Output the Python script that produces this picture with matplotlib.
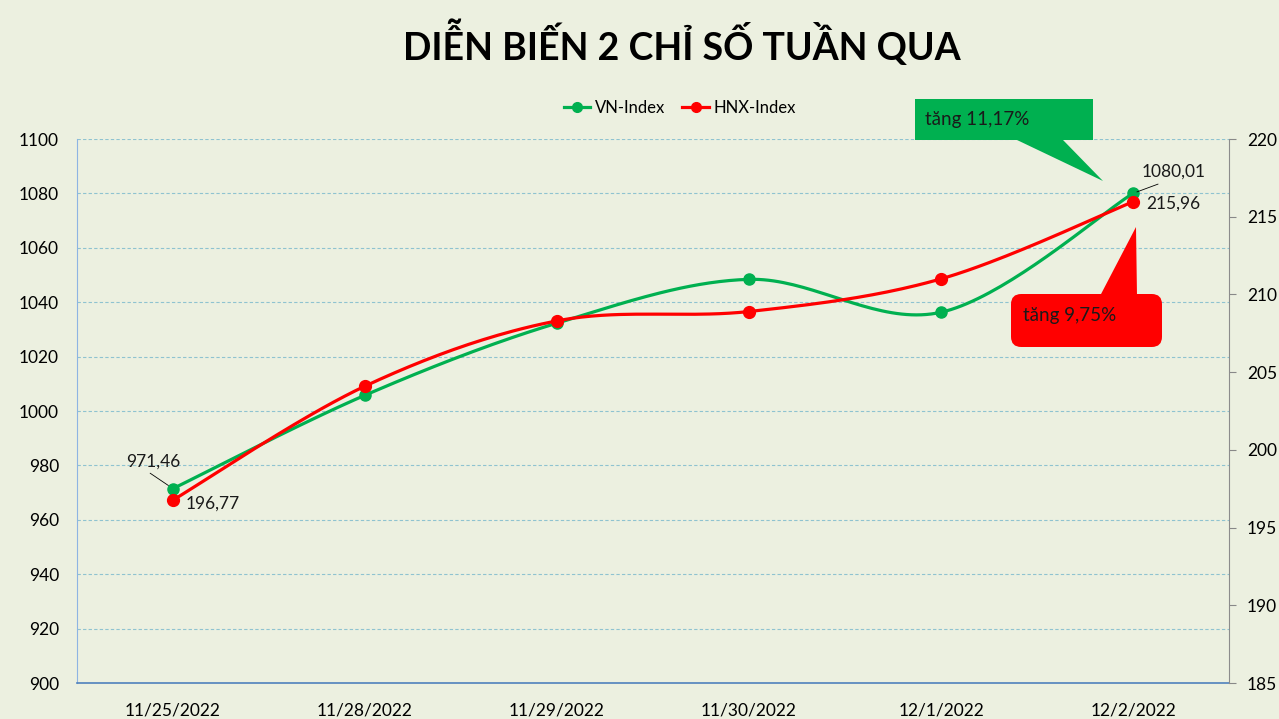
import numpy as np
import matplotlib
matplotlib.use("Agg")
import matplotlib.pyplot as plt
from matplotlib.patches import Polygon, FancyBboxPatch
from matplotlib.lines import Line2D

dates = ["11/25/2022", "11/28/2022", "11/29/2022", "11/30/2022", "12/1/2022", "12/2/2022"]
vn_index = [971.46, 1005.8, 1032.3, 1048.4, 1036.3, 1080.01]
hnx_index = [196.77, 204.1, 208.3, 208.9, 211.0, 215.96]
left_ticks = [900, 920, 940, 960, 980, 1000, 1020, 1040, 1060, 1080, 1100]
right_ticks = [185, 190, 195, 200, 205, 210, 215, 220]

BG = "#ECF0E0"
GREEN = "#00B050"
RED = "#FF0000"
FONT = ["Lato", "DejaVu Sans"]
plt.rcParams["font.family"] = FONT

W, H = 1279, 719
fig = plt.figure(figsize=(W / 100, H / 100), dpi=100, facecolor=BG)

def fx(px):
    return px / W

def fy(py):
    return 1 - py / H

ax = fig.add_axes([fx(77), fy(683), fx(1229) - fx(77), fy(139) - fy(683)])
ax2 = ax.twinx()
ax.set_facecolor(BG)

x = np.arange(len(dates))
ax.set_xlim(-0.5, len(dates) - 0.5)
ax.set_ylim(900, 1100)
ax2.set_ylim(185, 220)


def smooth(xs, ys, ylo, yhi, n=40):
    # Catmull-Rom style smoothing (like Excel's smoothed line) in normalized coords
    xn = (np.asarray(xs, float) + 0.5) / len(xs)
    yn = (np.asarray(ys, float) - ylo) / (yhi - ylo) * (544 / 1152)
    P = np.column_stack([xn, yn])
    out = []
    for i in range(len(P) - 1):
        p0 = P[i - 1] if i > 0 else P[i]
        p1 = P[i]
        p2 = P[i + 1]
        p3 = P[i + 2] if i + 2 < len(P) else P[i + 1]
        c1 = p1 + (p2 - p0) / 6
        c2 = p2 - (p3 - p1) / 6
        t = np.linspace(0, 1, n)[:, None]
        seg = (1 - t) ** 3 * p1 + 3 * (1 - t) ** 2 * t * c1 + 3 * (1 - t) * t ** 2 * c2 + t ** 3 * p2
        out.append(seg if i == 0 else seg[1:])
    S = np.vstack(out)
    sx = S[:, 0] * len(xs) - 0.5
    sy = S[:, 1] / (544 / 1152) * (yhi - ylo) + ylo
    return sx, sy

sx, sy = smooth(x, vn_index, 900, 1100)
ax.plot(sx, sy, color=GREEN, lw=2.3, zorder=3, solid_capstyle="round")
ax.plot(x, vn_index, "o", color=GREEN, ms=8, zorder=4)

hx, hy = smooth(x, hnx_index, 185, 220)
ax2.plot(hx, hy, color=RED, lw=2.3, zorder=3, solid_capstyle="round")
ax2.plot(x, hnx_index, "o", color=RED, ms=8.5, zorder=4)

# grid
for v in left_ticks[1:]:
    ax.axhline(v, color="#8FC3D0", lw=0.8, ls=(0, (3, 2)), zorder=1)

ax.set_xticks(x)
ax.set_xticklabels(dates, fontsize=12.5)
ax.set_yticks(left_ticks)
ax.set_yticklabels([str(v) for v in left_ticks], fontsize=12.5)
ax2.set_yticks(right_ticks)
ax2.set_yticklabels([str(v) for v in right_ticks], fontsize=12.5)
ax.tick_params(axis="x", length=0, pad=14)
ax.tick_params(axis="y", length=0, pad=13)
ax2.tick_params(axis="y", length=5, color="#888888", pad=8)

for a in (ax, ax2):
    for s in a.spines.values():
        s.set_visible(False)
ax.spines["left"].set_visible(True)
ax.spines["left"].set_color("#8EB4E3")
ax.spines["bottom"].set_visible(True)
ax.spines["bottom"].set_color("#4F81BD")
ax.spines["bottom"].set_linewidth(1.2)
ax2.spines["right"].set_visible(True)
ax2.spines["right"].set_color("#8C8C8C")

# data labels
lab_kw = dict(fontsize=12.5, color="#1a1a1a", textcoords="offset pixels", zorder=6)
ax.annotate("971,46", xy=(x[0], vn_index[0]), xytext=(-20, 27), ha="center", va="center",
            arrowprops=dict(arrowstyle="-", color="black", lw=0.6, shrinkA=1, shrinkB=4,
                            relpos=(0.35, 0.0)), **lab_kw)
ax2.annotate("196,77", xy=(x[0], hnx_index[0]), xytext=(13, -4), ha="left", va="center", **lab_kw)
ax.annotate("1080,01", xy=(x[-1], vn_index[-1]), xytext=(9, 22), ha="left", va="center",
            arrowprops=dict(arrowstyle="-", color="black", lw=0.6, shrinkA=4, shrinkB=3,
                            relpos=(0.45, 0.0)), **lab_kw)
ax2.annotate("215,96", xy=(x[-1], hnx_index[-1]), xytext=(13, -2), ha="left", va="center", **lab_kw)

# title
fig.text(fx(682), fy(43), "DIỄN BIẾN 2 CHỈ SỐ TUẦN QUA", ha="center", va="center",
         fontsize=27, fontweight="bold", color="black", family=["Lato", "DejaVu Sans"])

# legend
handles = [Line2D([], [], color=GREEN, marker="o", ms=7, lw=2.3),
           Line2D([], [], color=RED, marker="o", ms=7, lw=2.3)]
fig.legend(handles, ["VN-Index", "HNX-Index"], loc="center", bbox_to_anchor=(fx(680), fy(108)),
           ncol=2, frameon=False, fontsize=12, handlelength=1.6, handletextpad=0.3,
           columnspacing=1.0)

# callouts (figure pixel coordinates)
def pts(lst):
    return [(fx(a), fy(b)) for a, b in lst]

green_shape = [(915, 99), (1093, 99), (1093, 140), (1063, 140), (1103, 181), (1017, 140), (915, 140)]
fig.patches.append(Polygon(pts(green_shape), closed=True, transform=fig.transFigure,
                           facecolor=GREEN, edgecolor="none", zorder=10))
fig.text(fx(925), fy(119), "tăng 11,17%", ha="left", va="center", fontsize=13.5, color="#1a1a1a", zorder=11)

rb = FancyBboxPatch((fx(1011), fy(347)), fx(1162) - fx(1011), fy(294) - fy(347),
                    boxstyle="round,pad=0,rounding_size=0.008", transform=fig.transFigure,
                    facecolor=RED, edgecolor="none", zorder=10, mutation_aspect=W / H)
fig.patches.append(rb)
fig.patches.append(Polygon(pts([(1100, 296), (1136, 227), (1137, 296)]), closed=True,
                           transform=fig.transFigure, facecolor=RED, edgecolor="none", zorder=10))
fig.text(fx(1023), fy(315), "tăng 9,75%", ha="left", va="center", fontsize=13.5, color="#1a1a1a", zorder=11)

fig.savefig("out.png", dpi=100, facecolor=BG)
